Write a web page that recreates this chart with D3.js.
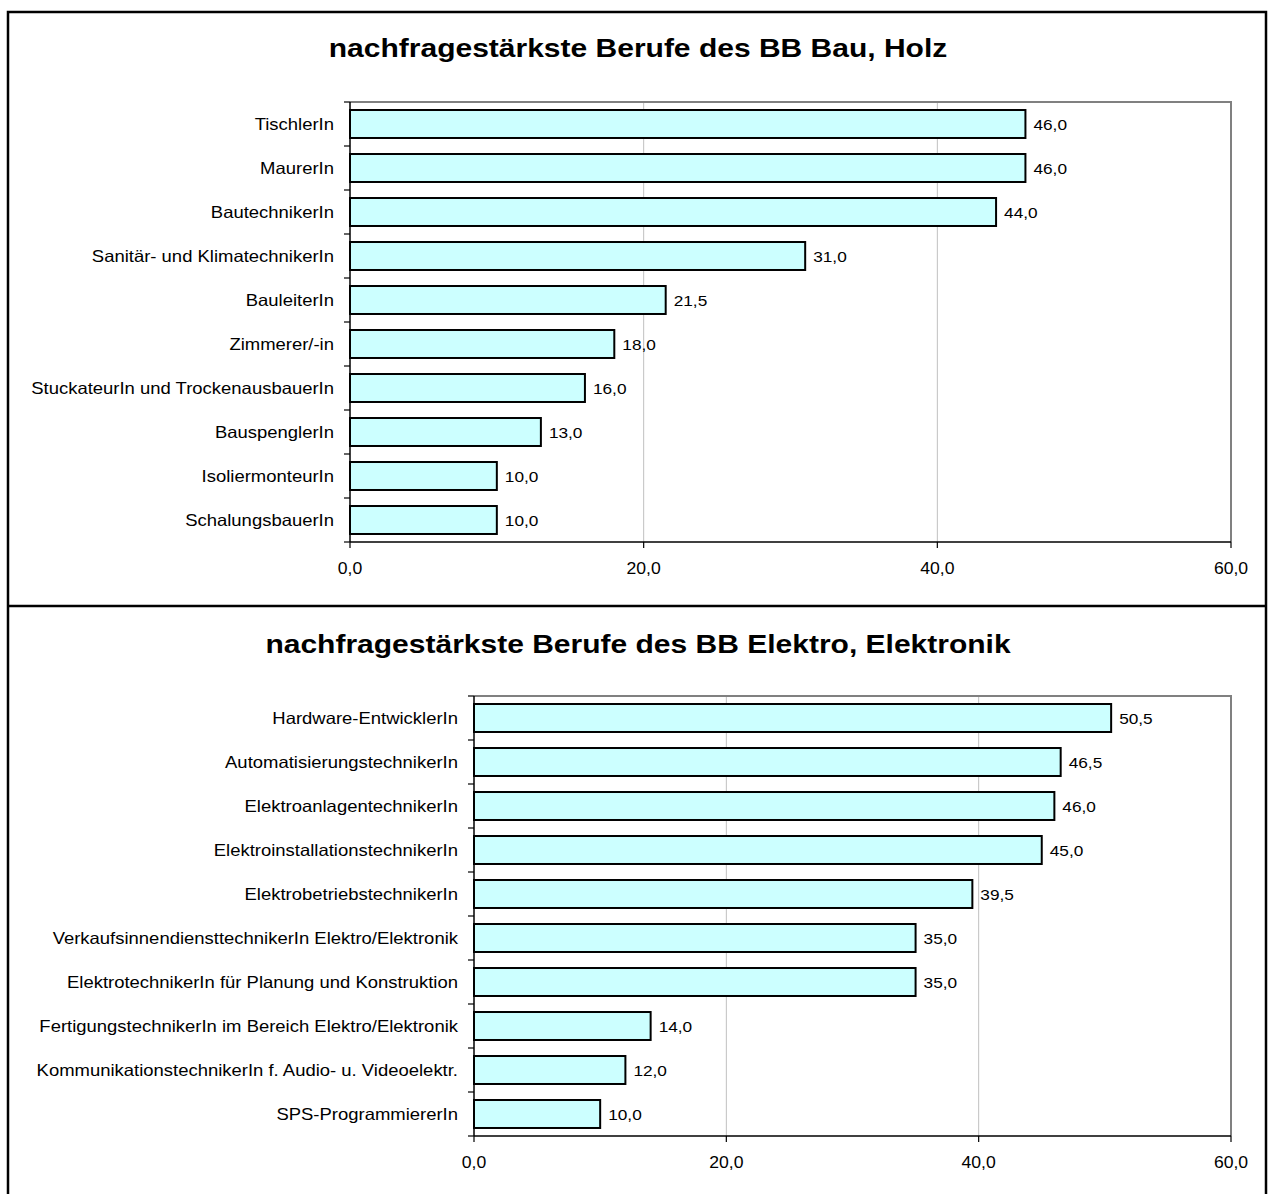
<!DOCTYPE html>
<html><head><meta charset="utf-8">
<script src="https://cdn.jsdelivr.net/npm/d3@7"></script>
<style>body{margin:0;background:#fff}svg{display:block}</style>
</head><body>
<svg id="c" width="1270" height="1194"></svg>
<script>
const title1 = "nachfragestärkste Berufe des BB Bau, Holz";
const categories1 = ["TischlerIn","MaurerIn","BautechnikerIn","Sanitär- und KlimatechnikerIn","BauleiterIn","Zimmerer/-in","StuckateurIn und TrockenausbauerIn","BauspenglerIn","IsoliermonteurIn","SchalungsbauerIn"];
const values1 = [46.0,46.0,44.0,31.0,21.5,18.0,16.0,13.0,10.0,10.0];

const title2 = "nachfragestärkste Berufe des BB Elektro, Elektronik";
const categories2 = ["Hardware-EntwicklerIn","AutomatisierungstechnikerIn","ElektroanlagentechnikerIn","ElektroinstallationstechnikerIn","ElektrobetriebstechnikerIn","VerkaufsinnendiensttechnikerIn Elektro/Elektronik","ElektrotechnikerIn für Planung und Konstruktion","FertigungstechnikerIn im Bereich Elektro/Elektronik","KommunikationstechnikerIn f. Audio- u. Videoelektr.","SPS-ProgrammiererIn"];
const values2 = [50.5,46.5,46.0,45.0,39.5,35.0,35.0,14.0,12.0,10.0];

const xTicks = [0,20,40,60];

const loc = d3.formatLocale({decimal:",",thousands:".",grouping:[3],currency:["","€"]});
const fmt = loc.format(".1f");
const FONT = "Arial, 'Liberation Sans', sans-serif";

const svg = d3.select("#c");
svg.append("rect").attr("x",8).attr("y",12).attr("width",1258).attr("height",1190)
  .attr("fill","#fff").attr("stroke","#000").attr("stroke-width",2.5);
svg.append("line").attr("x1",8).attr("x2",1266).attr("y1",606).attr("y2",606)
  .attr("stroke","#000").attr("stroke-width",2.5);

function stext(g, x, y, txt, size, sx, anchor, weight){
  return g.append("text").attr("transform",`translate(${x},${y}) scale(${sx},1)`)
    .attr("text-anchor",anchor).attr("font-family",FONT).attr("font-size",size)
    .attr("font-weight",weight||"normal").attr("fill","#000").text(txt);
}

function chart(cfg){
  const {title, cats, vals, x0, x1, y0, y1, titleY} = cfg;
  const g = svg.append("g");
  stext(g, 638, titleY, title, 25, 1.2, "middle", "bold");
  const x = d3.scaleLinear().domain([0,60]).range([x0,x1]);
  const y = d3.scaleBand().domain(cats).range([y0,y1]).paddingInner(0.364).paddingOuter(0.182);
  // gridlines
  g.selectAll(".grid").data(xTicks.filter(t=>t>0 && t<60)).enter().append("line")
    .attr("x1",d=>x(d)).attr("x2",d=>x(d)).attr("y1",y0).attr("y2",y1)
    .attr("stroke","#c0c0c0").attr("stroke-width",1);
  // plot border top/right
  g.append("path").attr("d",`M${x0},${y0}H${x1}V${y1}`).attr("fill","none")
    .attr("stroke","#808080").attr("stroke-width",2);
  // bars
  g.selectAll(".bar").data(vals).enter().append("rect")
    .attr("x",x(0)).attr("y",(d,i)=>y(cats[i])).attr("width",d=>x(d)-x(0))
    .attr("height",y.bandwidth()).attr("fill","#ccffff").attr("stroke","#000").attr("stroke-width",2);
  // value labels
  vals.forEach((v,i)=>{
    stext(g, x(v)+8, y(cats[i])+y.bandwidth()/2+5.5, fmt(v), 15, 1.15, "start");
  });
  // axes
  g.append("line").attr("x1",x0).attr("x2",x0).attr("y1",y0).attr("y2",y1).attr("stroke","#000").attr("stroke-width",1.5);
  g.append("line").attr("x1",x0).attr("x2",x1).attr("y1",y1).attr("y2",y1).attr("stroke","#000").attr("stroke-width",1.5);
  const step = y.step();
  d3.range(cats.length+1).forEach(i=>{
    const yy = y0 + i*step;
    g.append("line").attr("x1",x0-6).attr("x2",x0).attr("y1",yy).attr("y2",yy).attr("stroke","#000").attr("stroke-width",1.2);
  });
  xTicks.forEach(t=>{
    g.append("line").attr("x1",x(t)).attr("x2",x(t)).attr("y1",y1).attr("y2",y1+6).attr("stroke","#000").attr("stroke-width",1.2);
    stext(g, x(t), y1+32, fmt(t), 16, 1.1, "middle");
  });
  cats.forEach((c,i)=>{
    stext(g, x0-16, y(c)+y.bandwidth()/2+6, c, 16.5, 1.12, "end");
  });
}

chart({title:title1, cats:categories1, vals:values1, x0:350, x1:1231, y0:102, y1:542, titleY:57});
chart({title:title2, cats:categories2, vals:values2, x0:474, x1:1231, y0:696, y1:1136, titleY:653});
</script>
</body></html>
